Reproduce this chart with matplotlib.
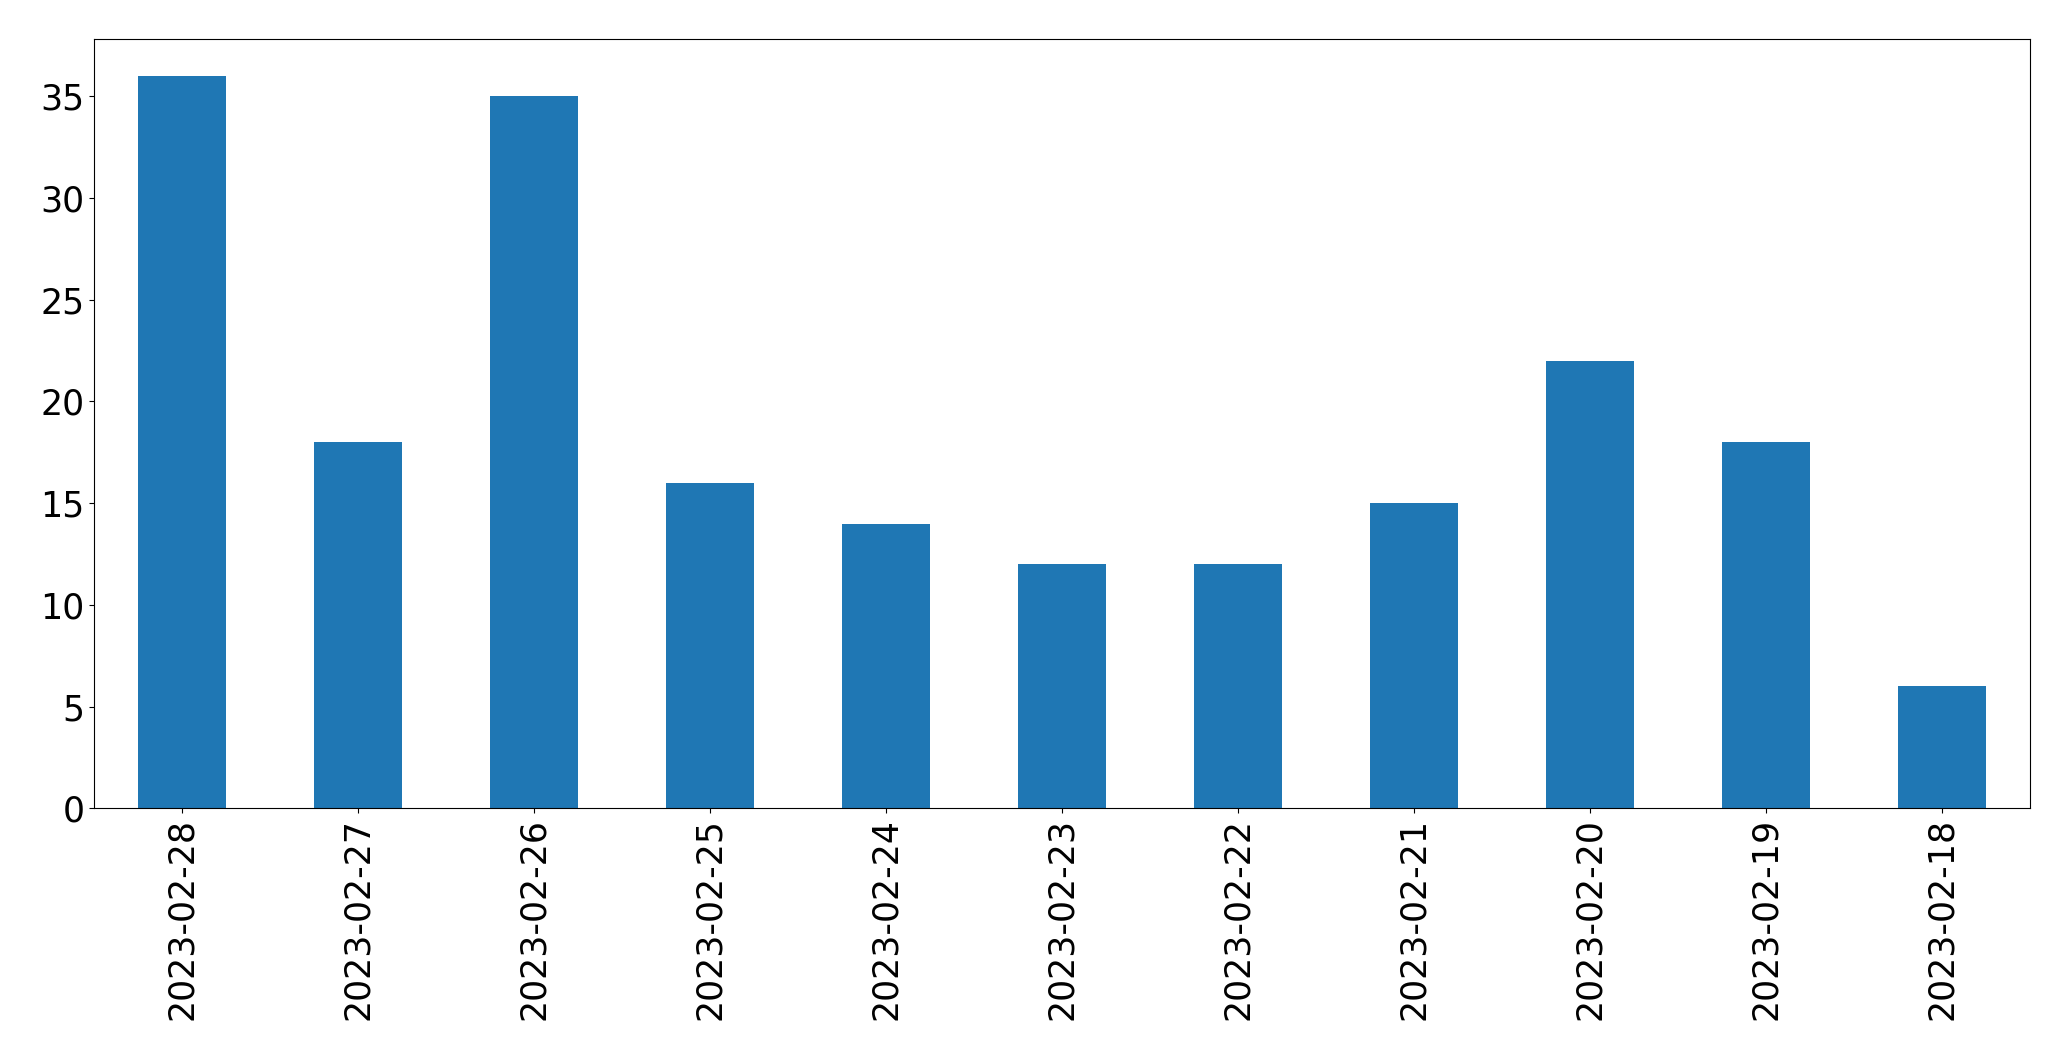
import matplotlib
matplotlib.use('Agg')
import matplotlib.pyplot as plt
import pandas as pd

dates = ["2023-02-28", "2023-02-27", "2023-02-26", "2023-02-25", "2023-02-24",
         "2023-02-23", "2023-02-22", "2023-02-21", "2023-02-20", "2023-02-19",
         "2023-02-18"]
counts = [36, 18, 35, 16, 14, 12, 12, 15, 22, 18, 6]

s = pd.Series(counts, index=dates)

fig, ax = plt.subplots(figsize=(20.71, 10.61), dpi=100)
s.plot.bar(ax=ax, color='#1f77b4')
ax.tick_params(axis='both', labelsize=25)
fig.subplots_adjust(left=0.0454, right=0.980, top=0.963, bottom=0.238)
fig.savefig("out.png", dpi=100)
